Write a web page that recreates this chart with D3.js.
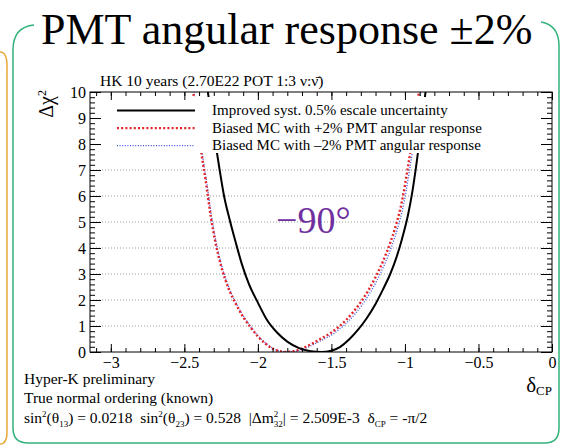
<!DOCTYPE html>
<html>
<head>
<meta charset="utf-8">
<script src="https://cdn.jsdelivr.net/npm/d3@7"></script>
<style>
  body { margin: 0; background: #fff; }
  svg { display: block; font-family: "Liberation Serif", "Times New Roman", serif; }
  .tick line { stroke: #000; stroke-width: 1; }
  .grid { stroke: #9a9a9a; stroke-width: 1; stroke-dasharray: 1,2; }
</style>
</head>
<body>
<svg id="chart" width="563" height="446"></svg>
<script>
// axis ticks
const xTickValues = [-3, -2.5, -2, -1.5, -1, -0.5, 0];
const yTickValues = [0, 1, 2, 3, 4, 5, 6, 7, 8, 9, 10];
const gridValues = [1, 2, 3, 4, 5, 6, 7, 8, 9];

// improved syst. 0.5% escale uncertainty (black)
const improvedDelta = [-2.37, -2.35, -2.32, -2.29, -2.26, -2.23, -2.19, -2.15, -2.11, -2.06, -2.0, -1.94, -1.87, -1.80, -1.72, -1.64, -1.57,
  -1.50, -1.44, -1.38, -1.32, -1.26, -1.20, -1.15, -1.10, -1.06, -1.02, -0.98, -0.95, -0.92, -0.89, -0.86, -0.84];
const improvedChi2 = [11.2, 10.4, 9.2, 8.1, 7.0, 6.0, 5.05, 4.2, 3.4, 2.6, 1.9, 1.25, 0.75, 0.4, 0.15, 0.03, 0,
  0.05, 0.2, 0.48, 0.85, 1.3, 1.85, 2.4, 3.0, 3.6, 4.35, 5.25, 6.15, 7.3, 8.6, 10.0, 11.0];

// biased MC +2% PMT angular response (red)
const plusDelta = [-2.47, -2.44, -2.41, -2.38, -2.35, -2.32, -2.29, -2.25, -2.20, -2.15, -2.10, -2.05, -2.00, -1.95, -1.90, -1.85, -1.80,
  -1.75, -1.70, -1.65, -1.60, -1.55, -1.50, -1.45, -1.40, -1.35, -1.30, -1.25, -1.20, -1.15, -1.10, -1.06, -1.02, -0.98, -0.94, -0.905, -0.88];
const plusChi2 = [11.2, 10.0, 8.7, 7.5, 6.4, 5.2, 4.25, 3.3, 2.45, 1.85, 1.35, 0.95, 0.6, 0.33, 0.13, 0.03, 0.0,
  0.04, 0.13, 0.27, 0.42, 0.58, 0.75, 0.97, 1.23, 1.55, 1.92, 2.36, 2.88, 3.48, 4.2, 4.9, 5.8, 7.1, 8.55, 10.0, 11.0];

// biased MC -2% PMT angular response (blue)
const minusDelta = [-2.465, -2.435, -2.405, -2.375, -2.345, -2.315, -2.285, -2.245, -2.195, -2.145, -2.095, -2.045, -1.995, -1.945, -1.895, -1.845, -1.79,
  -1.74, -1.69, -1.64, -1.59, -1.54, -1.49, -1.44, -1.39, -1.34, -1.29, -1.24, -1.19, -1.14, -1.09, -1.05, -1.01, -0.97, -0.93, -0.895, -0.87];
const minusChi2 = [11.2, 10.0, 8.7, 7.5, 6.4, 5.2, 4.25, 3.3, 2.45, 1.85, 1.35, 0.95, 0.6, 0.33, 0.13, 0.03, 0.0,
  0.03, 0.11, 0.24, 0.38, 0.53, 0.69, 0.9, 1.15, 1.46, 1.82, 2.25, 2.76, 3.35, 4.06, 4.76, 5.65, 6.95, 8.4, 9.9, 11.0];

const legendLabels = [
  "Improved syst. 0.5% escale uncertainty",
  "Biased MC with +2% PMT angular response",
  "Biased MC with \u20132% PMT angular response"
];

const serif = '"Liberation Serif", "Times New Roman", serif';
const svg = d3.select("#chart");
const margin = {top: 92, right: 11, bottom: 94, left: 90};
const width = 563 - margin.left - margin.right;
const height = 446 - margin.top - margin.bottom;

// slide decorations
svg.append("path")
  .attr("d", "M0,52 Q7,52 7,66 L7,432 Q7,444 0,444")
  .attr("fill", "none").attr("stroke", "#e9a93c").attr("stroke-width", 1.5);
svg.append("path")
  .attr("d", "M34,25 Q13,27 13,50 L13,428 Q13,443 28,443 L545,443 Q559,443 559,428 L559,46 Q559,25 541,22")
  .attr("fill", "none").attr("stroke", "#33b27a").attr("stroke-width", 1.5);

svg.append("text")
  .attr("x", 41).attr("y", 44)
  .attr("font-size", 44)
  .text("PMT angular response \u00b12%");

const x = d3.scaleLinear().domain([-Math.PI, 0]).range([0, width]);
const y = d3.scaleLinear().domain([0, 10]).range([height, 0]);

const chart = svg.append("g").attr("transform", `translate(${margin.left},${margin.top})`);

chart.append("defs").append("clipPath").attr("id", "plotclip")
  .append("rect").attr("width", width).attr("height", height);

// grid
chart.append("g").selectAll("line").data(gridValues).join("line")
  .attr("class", "grid")
  .attr("x1", 0).attr("x2", width)
  .attr("y1", d => y(d)).attr("y2", d => y(d));

const line = d3.line()
  .x(d => x(d[0]))
  .y(d => y(d[1]))
  .curve(d3.curveMonotoneX);

const series = [
  {delta: minusDelta, chi2: minusChi2, color: "#3a4fe0", width: 1.3, dash: "1,1.6"},
  {delta: plusDelta, chi2: plusChi2, color: "#e3242b", width: 2.4, dash: "2,2.2"},
  {delta: improvedDelta, chi2: improvedChi2, color: "#000", width: 2, dash: null}
];

const curves = chart.append("g").attr("clip-path", "url(#plotclip)");
curves.selectAll("path").data(series).join("path")
  .attr("d", s => line(d3.zip(s.delta, s.chi2)))
  .attr("fill", "none")
  .attr("stroke", s => s.color)
  .attr("stroke-width", s => s.width)
  .attr("stroke-dasharray", s => s.dash);

// legend
const legend = chart.append("g").attr("transform", "translate(0,5)");
legend.append("rect").attr("x", 0.5).attr("y", 0).attr("width", width - 1).attr("height", 56).attr("fill", "#fff");
const legendSeries = [series[2], series[1], series[0]];
const rows = legend.selectAll("g.row").data(legendSeries).join("g")
  .attr("class", "row")
  .attr("transform", (d, i) => `translate(0,${18 + i * 17.6})`);
rows.append("line")
  .attr("x1", 27).attr("x2", 105).attr("y1", -4.5).attr("y2", -4.5)
  .attr("stroke", d => d.color)
  .attr("stroke-width", d => d.width)
  .attr("stroke-dasharray", d => d.dash);
rows.append("text")
  .attr("x", 122).attr("y", 0)
  .attr("font-size", 15)
  .text((d, i) => legendLabels[i]);

// axes
const xMinor = d3.range(-3.1, 0.001, 0.1);
const yMinor = d3.range(0, 10.001, 0.2);
const fmt = d3.format("");

const axes = chart.append("g");
axes.append("g").attr("transform", `translate(0,${height})`)
  .call(d3.axisBottom(x).tickValues(xMinor).tickSizeInner(-4).tickSizeOuter(0).tickFormat(""));
axes.append("g").attr("transform", `translate(0,${height})`)
  .call(d3.axisBottom(x).tickValues(xTickValues).tickSizeInner(-8).tickSizeOuter(0).tickPadding(5).tickFormat(fmt));
axes.append("g")
  .call(d3.axisTop(x).tickValues(xMinor).tickSizeInner(-4).tickSizeOuter(0).tickFormat(""));
axes.append("g")
  .call(d3.axisTop(x).tickValues(xTickValues).tickSizeInner(-8).tickSizeOuter(0).tickFormat(""));

axes.append("g")
  .call(d3.axisLeft(y).tickValues(yMinor).tickSizeInner(-5).tickSizeOuter(0).tickFormat(""));
axes.append("g")
  .call(d3.axisLeft(y).tickValues(yTickValues).tickSizeInner(-11).tickSizeOuter(0).tickPadding(4).tickFormat(fmt));
axes.append("g").attr("transform", `translate(${width},0)`)
  .call(d3.axisRight(y).tickValues(yMinor).tickSizeInner(-5).tickSizeOuter(0).tickFormat(""));
axes.append("g").attr("transform", `translate(${width},0)`)
  .call(d3.axisRight(y).tickValues(yTickValues).tickSizeInner(-11).tickSizeOuter(0).tickFormat(""));

axes.selectAll(".domain").remove();
axes.selectAll("g").attr("font-family", serif).attr("font-size", 16);
axes.selectAll(".tick text").attr("font-family", serif).attr("font-size", 16).attr("fill", "#000");

chart.append("rect")
  .attr("x", 0).attr("y", 0).attr("width", width).attr("height", height)
  .attr("fill", "none").attr("stroke", "#000").attr("stroke-width", 1);

// labels
chart.append("text")
  .attr("x", 10).attr("y", -6)
  .attr("font-size", 15.5)
  .text("HK 10 years (2.70E22 POT 1:3 \u03bd:\u03bd\u0304)");

chart.append("text")
  .attr("transform", "rotate(-90)")
  .attr("x", 2).attr("y", -37)
  .attr("text-anchor", "end")
  .attr("font-size", 20)
  .call(t => {
    t.append("tspan").text("\u0394\u03c7");
    t.append("tspan").attr("baseline-shift", "super").attr("font-size", 12).text("2");
  });

const xTitle = chart.append("text")
  .attr("x", width).attr("y", height + 40)
  .attr("text-anchor", "end")
  .attr("font-size", 21);
xTitle.append("tspan").text("\u03b4");
xTitle.append("tspan").attr("baseline-shift", "-3").attr("font-size", 13).text("CP");

chart.append("text")
  .attr("x", 186).attr("y", 141)
  .attr("font-size", 38)
  .attr("fill", "#7030a0")
  .text("\u221290\u00b0");

// bottom info text
const info = svg.append("g").attr("font-size", 15.5);
info.append("text").attr("x", 24).attr("y", 384).text("Hyper-K preliminary");
info.append("text").attr("x", 24).attr("y", 403).text("True normal ordering (known)");
const p = info.append("text").attr("x", 24).attr("y", 423);
const sup = s => p.append("tspan").attr("baseline-shift", "6").attr("font-size", 9).text(s);
const sub = s => p.append("tspan").attr("baseline-shift", "-4").attr("font-size", 9).text(s);
const txt = s => p.append("tspan").text(s);
txt("sin"); sup("2"); txt("(\u03b8"); sub("13"); txt(") = 0.0218\u00a0\u00a0sin"); sup("2"); txt("(\u03b8"); sub("23");
txt(") = 0.528\u00a0\u00a0|\u0394m"); sup("2");
p.append("tspan").attr("dx", -4.5).attr("baseline-shift", "-4").attr("font-size", 9).text("32");
txt("| = 2.509E-3\u00a0\u00a0\u03b4"); sub("CP"); txt(" = -\u03c0/2");
</script>
</body>
</html>
